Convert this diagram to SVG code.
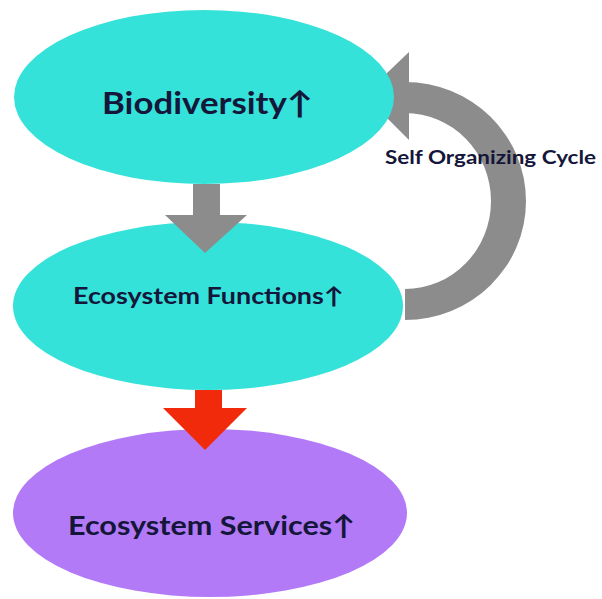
<svg xmlns="http://www.w3.org/2000/svg" width="602" height="599" viewBox="0 0 602 599">
<style>
.cy{fill:#35e2da}
.pu{fill:#b27af7}
.gr{fill:#8c8c8c}
.rd{fill:#f22a0c}
text{font-family:Lato,"Open Sans","DejaVu Sans",sans-serif;font-weight:bold;fill:#14163a}
</style>
<rect width="602" height="599" fill="#ffffff"/>
<g id="cycle-arrow">
<path class="gr" d="M405,82 A121,119 0 0 1 405,320 L405,289 A86,88 0 0 0 405,113 Z"/>
<polygon class="gr" points="409,52 409,140 364,95"/>
</g>
<g id="node-biodiversity">
<ellipse class="cy" cx="204" cy="97" rx="190" ry="87"/>
<text x="102" y="114" font-size="31" textLength="211" lengthAdjust="spacingAndGlyphs">Biodiversity↑</text>
</g>
<g id="node-functions">
<ellipse class="cy" cx="208" cy="306" rx="195" ry="84"/>
<text x="73" y="304" font-size="23" textLength="271" lengthAdjust="spacingAndGlyphs">Ecosystem Functions↑</text>
</g>
<g id="node-services">
<ellipse class="pu" cx="210" cy="513" rx="197" ry="84"/>
<text x="68" y="535" font-size="27" textLength="287" lengthAdjust="spacingAndGlyphs">Ecosystem Services↑</text>
</g>
<g id="connectors">
<polygon class="gr" points="193,184 220,184 220,215 247,215 205,253 165,215 193,215"/>
<polygon class="rd" points="195,390 222,390 222,408 247,408 205,450 163,408 195,408"/>
</g>
<text x="385" y="164" font-size="18" textLength="211" lengthAdjust="spacingAndGlyphs">Self Organizing Cycle</text>
</svg>
